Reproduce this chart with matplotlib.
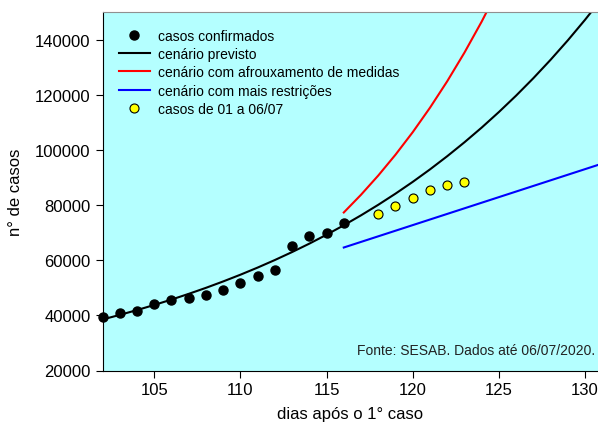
import numpy as np
import matplotlib.pyplot as plt

plt.rcParams['font.family'] = ['Liberation Sans', 'DejaVu Sans']

# casos confirmados (dias 102-116)
dias_conf = [102, 103, 104, 105, 106, 107, 108, 109, 110, 111, 112, 113, 114, 115, 116]
casos_conf = [39400, 41000, 41500, 44000, 45400, 46400, 47200, 49200, 51900,
              54400, 56600, 65300, 68600, 69700, 73400]

# casos de 01 a 06/07
dias_jul = [118, 119, 120, 121, 122, 123]
casos_jul = [76600, 79500, 82400, 85500, 87200, 88400]

# cenario previsto
dias_prev = [102, 103, 104, 105, 106, 107, 108, 109, 110, 111, 112, 113, 114, 115, 116,
             117, 118, 119, 120, 121, 122, 123, 124, 125, 126, 127, 128, 129, 130, 131]
casos_prev = [38500, 40160, 41910, 43760, 45720, 47790, 49970, 52290, 54730, 57320,
              60060, 62950, 66000, 69240, 72660, 76270, 80090, 84130, 88400, 92920,
              97700, 102750, 108080, 113730, 119690, 126000, 132680, 139730, 147190, 155070]

# cenario com afrouxamento de medidas
dias_afr = [116, 117, 118, 119, 120, 121, 122, 123, 124, 125]
casos_afr = [77300, 83730, 90700, 98250, 106420, 115280, 124870, 135260, 146510, 158700]

# cenario com mais restricoes
dias_rest = [116, 131]
casos_rest = [64600, 95050]

fig = plt.figure(figsize=(5.98, 4.27), dpi=100)
ax = fig.add_axes([102.5 / 598, 1 - 371.5 / 427, 1 - 102.5 / 598, 358.5 / 427])
ax.set_facecolor('#b4ffff')

ax.plot(dias_conf, casos_conf, 'o', color='black', ms=6.5, clip_on=False, zorder=4,
        label='casos confirmados')
ax.plot(dias_prev, casos_prev, color='black', lw=1.5, label='cenário previsto')
ax.plot(dias_afr, casos_afr, color='#ff0000', lw=1.5,
        label='cenário com afrouxamento de medidas')
ax.plot(dias_rest, casos_rest, color='#0000ff', lw=1.5,
        label='cenário com mais restrições')
ax.plot(dias_jul, casos_jul, 'o', color='#ffff00', mec='black', mew=0.8, ms=6.5, zorder=4,
        label='casos de 01 a 06/07')

ax.set_xlim(102, 130.75)
ax.set_ylim(20000, 150000)
ax.set_xticks([105, 110, 115, 120, 125, 130])
ax.set_yticks([20000, 40000, 60000, 80000, 100000, 120000, 140000])
ax.tick_params(labelsize=12, length=5, width=0.8, color='black')
ax.spines['right'].set_visible(False)
ax.spines['top'].set_color('#909090')
ax.set_xlabel('dias após o 1° caso', fontsize=12, labelpad=6)
ax.set_ylabel('n° de casos', fontsize=12, labelpad=9)

ax.legend(loc='upper left', bbox_to_anchor=(0.022, 0.968), frameon=False, fontsize=10,
          handlelength=2.2, handletextpad=0.6, labelspacing=0.3, borderaxespad=0,
          numpoints=1)

ax.text(0.995, 0.058, 'Fonte: SESAB. Dados até 06/07/2020.', transform=ax.transAxes,
        ha='right', va='center', fontsize=10, color='#222222')

fig.savefig('out.png', dpi=100)
